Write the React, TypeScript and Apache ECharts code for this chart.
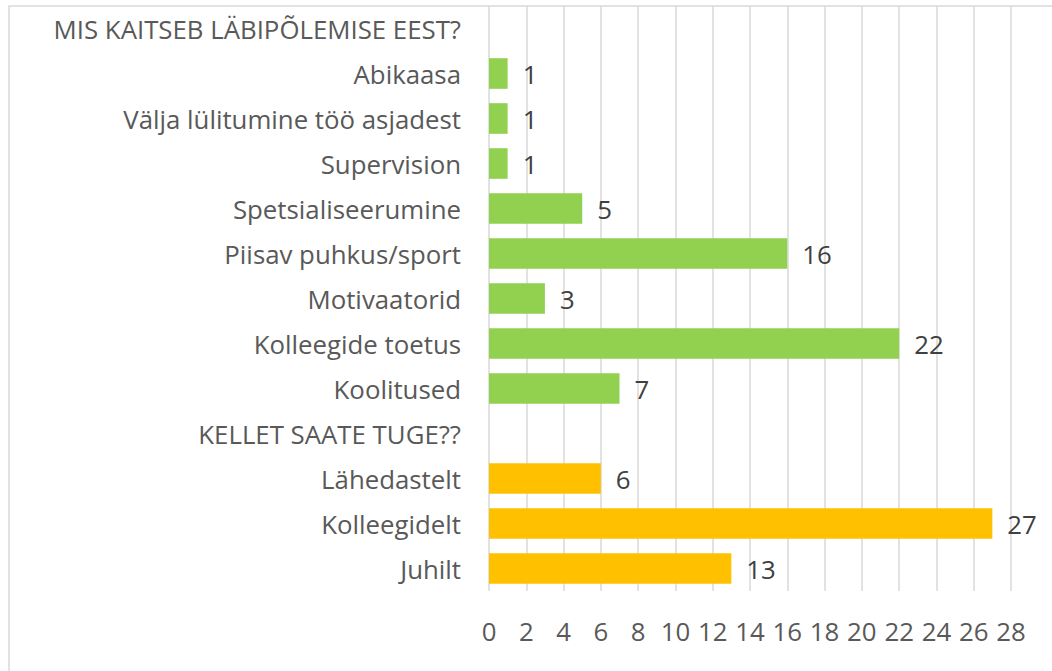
import React, { useEffect, useRef } from "react";
import * as echarts from "echarts";

const header1 = "MIS KAITSEB LÄBIPÕLEMISE EEST?";
const protectCategories = [
  "Abikaasa",
  "Välja lülitumine töö asjadest",
  "Supervision",
  "Spetsialiseerumine",
  "Piisav puhkus/sport",
  "Motivaatorid",
  "Kolleegide toetus",
  "Koolitused",
];
const protectValues = [1, 1, 1, 5, 16, 3, 22, 7];
const header2 = "KELLET SAATE TUGE??";
const supportCategories = ["Lähedastelt", "Kolleegidelt", "Juhilt"];
const supportValues = [6, 27, 13];
const xTicks = [0, 2, 4, 6, 8, 10, 12, 14, 16, 18, 20, 22, 24, 26, 28];

const FONT = "'Open Sans'";

function fitFontSize(): number {
  try {
    const c = document.createElement("canvas");
    const ctx = c.getContext("2d");
    if (!ctx) return 25;
    ctx.font = `100px ${FONT}`;
    const w =
      ctx.measureText(header1).width +
      ctx.measureText(protectCategories[1]).width +
      ctx.measureText(protectCategories[0]).width;
    const s = ((408 + 339 + 106) * 100) / w;
    return Math.round(s * 10) / 10;
  } catch (e) {
    return 25;
  }
}

export default function App() {
  const ref = useRef<HTMLDivElement>(null);

  useEffect(() => {
    if (!ref.current) return;
    const chart = echarts.init(ref.current, null, { renderer: "svg" });
    const fs = fitFontSize();

    const categories = [header1, ...protectCategories, header2, ...supportCategories];
    const greenData = [
      "-",
      ...protectValues,
      "-",
      ...supportCategories.map(() => "-"),
    ];
    const orangeData = [
      "-",
      ...protectCategories.map(() => "-"),
      "-",
      ...supportValues,
    ];

    const labelCfg = {
      show: true,
      position: "right",
      distance: 15,
      color: "#404040",
      fontFamily: FONT,
      fontSize: fs,
    };

    chart.setOption({
      animation: false,
      backgroundColor: "#ffffff",
      textStyle: { fontFamily: FONT },
      grid: { left: 489, right: 41, top: 6, bottom: 80, containLabel: false },
      xAxis: {
        type: "value",
        min: xTicks[0],
        max: xTicks[xTicks.length - 1],
        interval: 2,
        axisLine: { show: false },
        axisTick: { show: false },
        splitLine: { show: true, lineStyle: { color: "#d9d9d9", width: 1.5 } },
        axisLabel: {
          color: "#595959",
          fontFamily: FONT,
          fontSize: fs,
          margin: 40,
          verticalAlign: "middle",
        },
      },
      yAxis: {
        type: "category",
        inverse: true,
        data: categories,
        axisLine: { show: false },
        axisTick: { show: false },
        splitLine: { show: false },
        axisLabel: {
          color: "#595959",
          fontFamily: FONT,
          fontSize: fs,
          margin: 28,
        },
      },
      graphic: [
        {
          type: "rect",
          silent: true,
          shape: { x: 9, y: 6, width: 1100, height: 700 },
          style: { fill: "none", stroke: "#d9d9d9", lineWidth: 1.5 },
          z: 100,
        },
      ],
      series: [
        {
          type: "bar",
          stack: "all",
          data: greenData,
          barCategoryGap: "32%",
          itemStyle: { color: "#92d050" },
          label: labelCfg,
        },
        {
          type: "bar",
          stack: "all",
          data: orangeData,
          barCategoryGap: "32%",
          itemStyle: { color: "#ffc000" },
          label: labelCfg,
        },
      ],
    });

    return () => chart.dispose();
  }, []);

  return (
    <div
      ref={ref}
      style={{ position: "absolute", left: 0, top: 0, width: 1052, height: 671 }}
    />
  );
}
